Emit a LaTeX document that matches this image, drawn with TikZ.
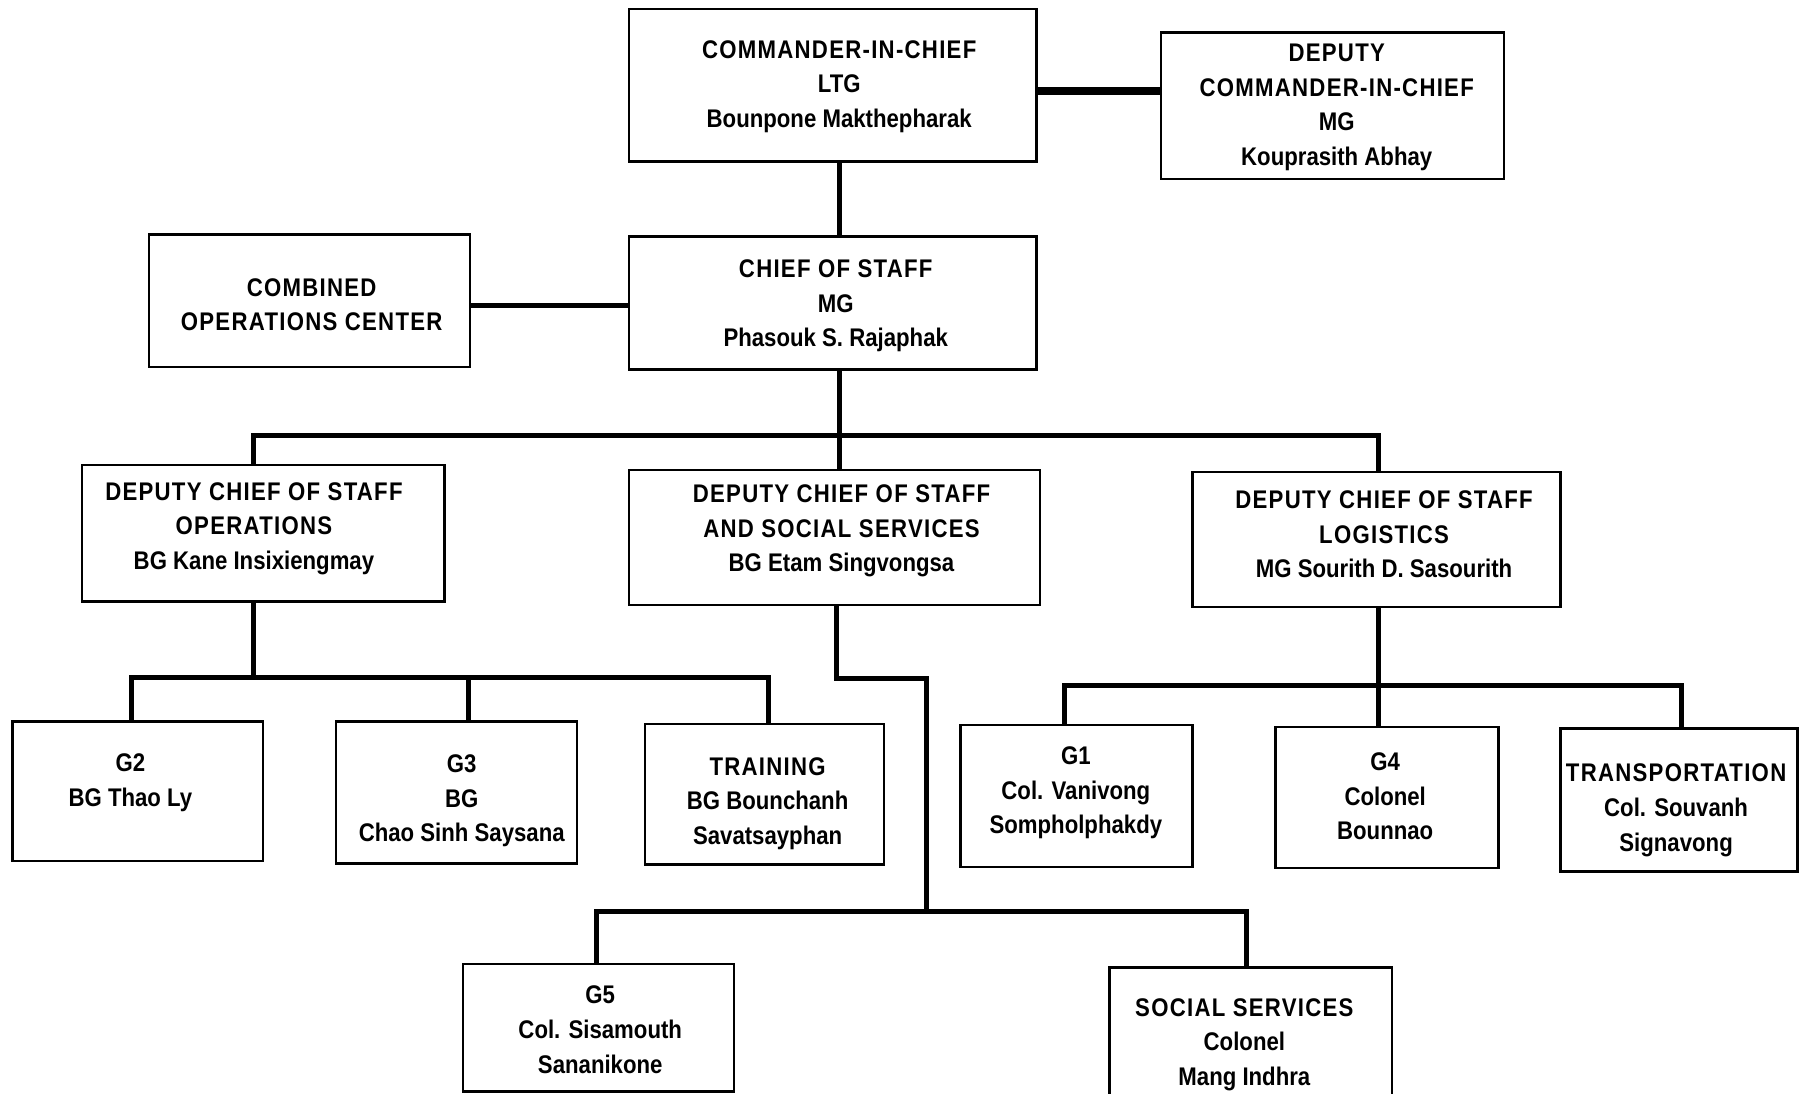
\documentclass[tikz,border=0pt]{standalone}
\usepackage{fontspec}
\setmainfont[FakeStretch=0.87]{Liberation Sans}
\usetikzlibrary{fit}
% capitals in the chart are set with a little extra tracking
\newcommand\trk[1]{{\addfontfeatures{LetterSpace=5}#1}}
\begin{document}
\begin{tikzpicture}[x=1.1543pt,y=-1.1543pt,
  box/.style={draw,line width=2.4pt,inner sep=0pt,rectangle},
  txt/.style={align=center,inner sep=0pt,font=\fontsize{25.5}{34.6}\selectfont\bfseries},
  conn/.style={line width=5pt},
  trunk/.style={line width=8pt}]
\useasboundingbox (0,0) rectangle (1568,947);
\clip (0,0) rectangle (1568,947);
\fill[white] (0,0) rectangle (1568,947);

% boxes
\node[box,fit={(545,8) (898,140)}] (cic) {};
\node[box,fit={(1006,28) (1303,155)}] (dcic) {};
\node[box,fit={(129,203) (407,318)}] (coc) {};
\node[box,fit={(545,205) (898,320)}] (cos) {};
\node[box,fit={(71,403) (385,521)}] (dops) {};
\node[box,fit={(545,407) (901,524)}] (dsoc) {};
\node[box,fit={(1033,409) (1352,526)}] (dlog) {};
\node[box,fit={(11,625) (228,746)}] (g2) {};
\node[box,fit={(291,625) (500,748)}] (g3) {};
\node[box,fit={(559,627) (766,749)}] (trn) {};
\node[box,fit={(832,628) (1033,751)}] (g1) {};
\node[box,fit={(1105,630) (1298,752)}] (g4) {};
\node[box,fit={(1352,631) (1557,755)}] (trp) {};
\node[box,fit={(401,835) (636,945.5)}] (g5) {};
\node[box,fit={(961,838) (1206,970)}] (ss) {};

% labels
\node[txt] (cic-t) at (727,75) {\trk{COMMANDER-IN-CHIEF}\\LTG\\Bounpone Makthepharak};
\node[txt] (dcic-t) at (1158,93) {\trk{DEPUTY}\\\trk{COMMANDER-IN-CHIEF}\\MG\\Kouprasith Abhay};
\node[txt] (coc-t) at (270,264) {\trk{COMBINED}\\\trk{OPERATIONS CENTER}};
\node[txt] (cos-t) at (724,265) {\trk{CHIEF OF STAFF}\\MG\\Phasouk S. Rajaphak};
\node[txt] (dops-t) at (220,458) {\trk{DEPUTY CHIEF OF STAFF}\\\trk{OPERATIONS}\\BG Kane Insixiengmay};
\node[txt] (dsoc-t) at (729,460) {\trk{DEPUTY CHIEF OF STAFF}\\\trk{AND SOCIAL SERVICES}\\BG Etam Singvongsa};
\node[txt] (dlog-t) at (1199,463) {\trk{DEPUTY CHIEF OF STAFF}\\\trk{LOGISTICS}\\MG Sourith D. Sasourith};
\node[txt] (g2-t) at (113,678) {G2\\BG Thao Ly};
\node[txt] (g3-t) at (400,694) {G3\\BG\\Chao Sinh Saysana};
\node[txt] (trn-t) at (665,696) {\trk{TRAINING}\\BG Bounchanh\\Savatsayphan};
\node[txt] (g1-t) at (932,687) {G1\\Col. Vanivong\\Somphol­phakdy};
\node[txt] (g4-t) at (1200,690) {G4\\Colonel\\Bounnao};
\node[txt] (trp-t) at (1452,702) {\trk{TRANSPORTATION}\\Col. Souvanh\\Signavong};
\node[txt] (g5-t) at (520,892) {G5\\Col. Sisamouth\\Sananikone};
\node[txt] (ss-t) at (1078,905) {\trk{SOCIAL SERVICES}\\Colonel\\Mang Indhra};

% command links
\draw[trunk] (cic.east |- 0,79) -- (dcic.west |- 0,79);
\draw[conn] (cic.south -| 727,0) -- (cos.north -| 727,0);
\draw[conn] (coc.east |- 0,265) -- (cos.west |- 0,265);

% staff bus
\coordinate (busA) at (727,377);
\draw[conn] (cos.south -| busA) -- (busA);
\draw[conn] (dops.north -| 220,0) |- (busA) -| (dlog.north -| 1194,0);
\draw[conn] (busA) -- (dsoc.north -| busA);

% operations branch
\coordinate (busB) at (220,587);
\draw[conn] (dops.south -| busB) -- (busB);
\draw[conn] (g2.north -| 114,0) |- (busB) -| (trn.north -| 666,0);
\draw[conn] (g3.north -| 406,0) -- (406,587);

% social services branch
\coordinate (busC) at (803,790);
\draw[conn] (dsoc.south -| 725,0) -- (725,588) -| (busC);
\draw[conn] (g5.north -| 517,0) |- (busC) -| (ss.north -| 1080,0);

% logistics branch
\coordinate (busD) at (1194,594);
\draw[conn] (dlog.south -| busD) -- (busD);
\draw[conn] (g1.north -| 922,0) |- (busD) -| (trp.north -| 1457,0);
\draw[conn] (g4.north -| busD) -- (busD);
\end{tikzpicture}
\end{document}
